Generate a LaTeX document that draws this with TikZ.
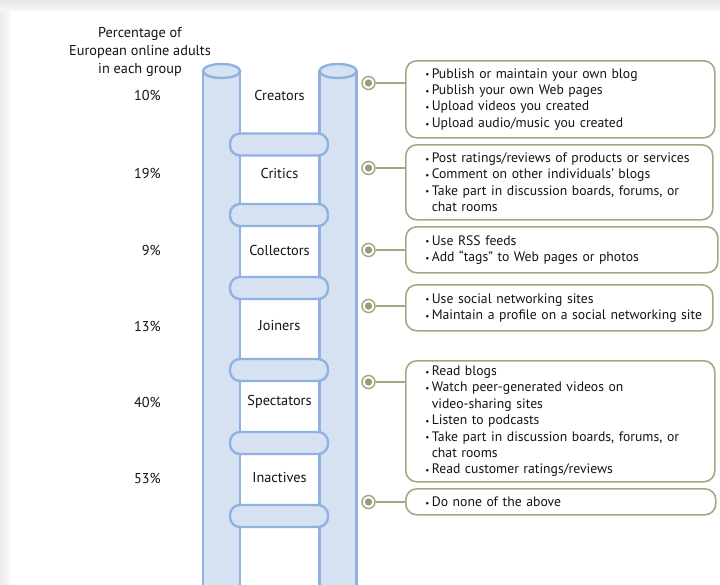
\documentclass[tikz,border=0pt]{standalone}
\usepackage{fontspec}
\setmainfont{PT Sans}
\usetikzlibrary{calc}
\definecolor{railfill}{HTML}{D6E2F2}
\definecolor{railline}{HTML}{8FB2E0}
\definecolor{olive}{HTML}{A8A683}
\definecolor{olivedot}{HTML}{9C9A76}
\definecolor{ink}{HTML}{151314}
\newcommand{\bl}{\hspace*{15.5pt}\makebox[6.5pt][l]{\raisebox{0.05ex}{\small •}}}
\newcommand{\cl}{\hspace*{15.5pt}\makebox[6.5pt][l]{}}
\tikzset{
  railstyle/.style={fill=railfill, draw=railline, line width=2.4pt},
  rungstyle/.style={fill=railfill, draw=railline, line width=2.4pt, rounded corners=10pt},
  steplabel/.style={font=\fontsize{14.3}{16}\selectfont, text=ink},
  pctlabel/.style={font=\fontsize{14.3}{16}\selectfont, text=ink, anchor=east, inner sep=0pt},
  infobox/.style={draw=olive, line width=1.6pt, rounded corners=11pt, fill=white, anchor=north west,
     align=left, inner xsep=4pt, inner ysep=2pt, text=ink,
     font=\fontsize{13.7}{16.4}\selectfont},
  dotring/.style={circle, draw=olive, line width=1.5pt, fill=white, minimum size=13pt, inner sep=0pt},
  linkline/.style={draw=olive, line width=1.6pt}
}
\begin{document}
\begin{tikzpicture}[x=1pt,y=-1pt]
\useasboundingbox (0,0) rectangle (720,584);
% screenshot frame
\fill[gray!12] (0,0) rectangle (720,584);
\shade[top color=gray!20, bottom color=gray!6] (0,0) rectangle (720,11);
\shade[left color=gray!14, right color=gray!5] (0,11) rectangle (10,584);
\fill[white] (10,11) rectangle (720,584);

% header
\node[font=\fontsize{14.3}{18}\selectfont, align=center, text=ink] (hdr) at (140,52)
  {Percentage of\\European online adults\\in each group};

% rails
\path[railstyle] (203,71) -- (203,590) -- (240,590) -- (240,71) -- cycle;
\path[railstyle] (319.5,71) -- (319.5,590) -- (356.5,590) -- (356.5,71) -- cycle;
\draw[railstyle] (221.5,71) ellipse [x radius=18.5, y radius=7];
\draw[railstyle] (338,71) ellipse [x radius=18.5, y radius=7];

% rungs
\foreach \y/\n in {144.5/1,215/2,288/3,370/4,443/5,516/6}{
  \draw[rungstyle] (230,\y-11) rectangle (328,\y+11);
}

% step labels
\node[steplabel] (s1) at (279.5,95) {Creators};
\node[steplabel] (s2) at (279.5,173) {Critics};
\node[steplabel] (s3) at (279.5,250) {Collectors};
\node[steplabel] (s4) at (279.5,326) {Joiners};
\node[steplabel] (s5) at (279.5,402) {Spectators};
\node[steplabel] (s6) at (279.5,478) {Inactives};

% percentages
\node[pctlabel] (p1) at (161,95) {10\%};
\node[pctlabel] (p2) at (161,173) {19\%};
\node[pctlabel] (p3) at (161,250) {9\%};
\node[pctlabel] (p4) at (161,326) {13\%};
\node[pctlabel] (p5) at (161,402) {40\%};
\node[pctlabel] (p6) at (161,478) {53\%};

% boxes
\node[infobox, minimum width=309pt, minimum height=77pt, text width=301pt] (b1) at (405,60)
 {\bl Publish or maintain your own blog\\\bl Publish your own Web pages\\\bl Upload videos you created\\\bl Upload audio/music you created};
\node[infobox, minimum width=307pt, minimum height=75pt, text width=299pt] (b2) at (405,144)
 {\bl Post ratings/reviews of products or services\\\bl Comment on other individuals’ blogs\\\bl Take part in discussion boards, forums, or\\\cl chat rooms};
\node[infobox, minimum width=312pt, minimum height=46pt, text width=304pt] (b3) at (405,226)
 {\bl Use RSS feeds\\\bl Add “tags” to Web pages or photos};
\node[infobox, minimum width=307pt, minimum height=46pt, text width=299pt] (b4) at (405,284)
 {\bl Use social networking sites\\\bl \mbox{Maintain a profile on a social networking site}};
\node[infobox, minimum width=309pt, minimum height=121pt, text width=301pt] (b5) at (405,360)
 {\bl Read blogs\\\bl Watch peer-generated videos on\\\cl video-sharing sites\\\bl Listen to podcasts\\\bl Take part in discussion boards, forums, or\\\cl chat rooms\\\bl Read customer ratings/reviews};
\node[infobox, minimum width=310pt, minimum height=26pt, text width=302pt] (b6) at (405,488)
 {\bl Do none of the above};

% connector dots
\foreach \i/\y in {1/83,2/168,3/250,4/306,5/382,6/502}{
  \node[dotring] (d\i) at (368.5,\y) {};
  \fill[olivedot] (d\i.center) circle (3.6);
  \draw[linkline] (d\i.east) -- (d\i.east -| b\i.west);
}
\end{tikzpicture}
\end{document}
